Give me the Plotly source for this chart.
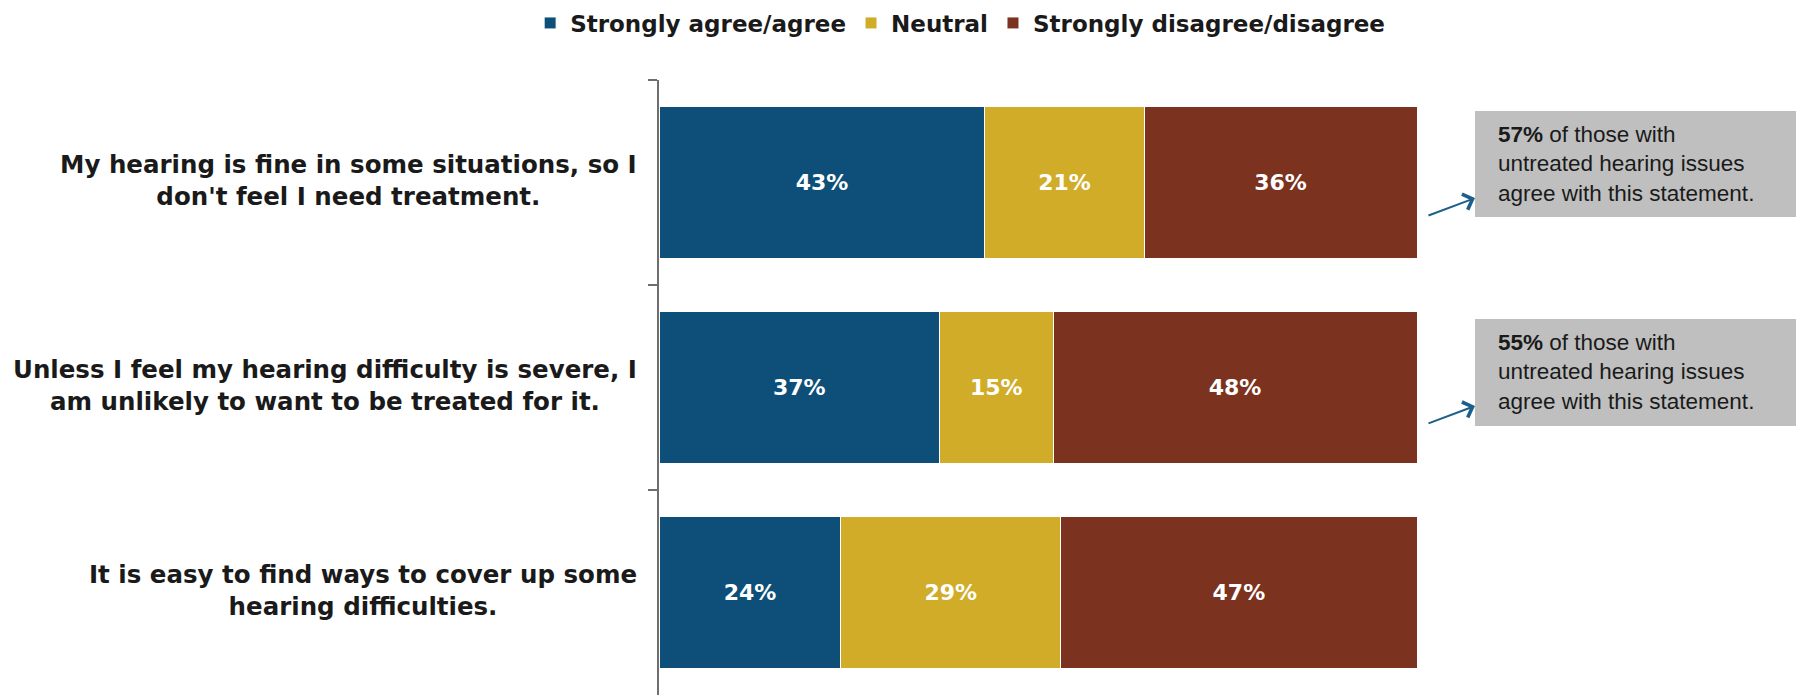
import plotly.graph_objects as go

categories = [
    "My hearing is fine in some situations, so I<br>don't feel I need treatment.",
    "Unless I feel my hearing difficulty is severe, I<br>am unlikely to want to be treated for it.",
    "It is easy to find ways to cover up some<br>hearing difficulties.",
]
agree = [43, 37, 24]
neutral = [21, 15, 29]
disagree = [36, 48, 47]
series_names = ["Strongly agree/agree", "Neutral", "Strongly disagree/disagree"]
series_colors = ["#0d4f78", "#d0ac28", "#7b321f"]

callout_rows = [0, 1]
callout_pct = [57, 55]
callout_text = "of those with<br>untreated hearing issues<br>agree with this statement."

BOLD = "DejaVu Sans"
REG = "Liberation Sans, Arial, sans-serif"

fig = go.Figure()
for name, vals, col in zip(series_names, [agree, neutral, disagree], series_colors):
    fig.add_trace(go.Bar(
        y=categories, x=vals, name=name, orientation="h",
        marker=dict(color=col, line=dict(color="white", width=1)),
        width=0.74,
        texttemplate="%{x}%", textposition="inside", insidetextanchor="middle",
        textfont=dict(family=BOLD, size=22, color="white", weight="bold"),
        hoverinfo="skip",
    ))

annotations = []
for cat in categories:
    annotations.append(dict(
        xref="paper", yref="y", x=0, y=cat, xanchor="right", yanchor="middle",
        xshift=-20, yshift=2, text=cat, align="center", showarrow=False,
        font=dict(family=BOLD, size=24.5, color="#1a1a1a", weight="bold"),
    ))

shapes = []
box_y = {0: (0.7772, 0.9496), 1: (0.4374, 0.6114)}
text_y = {0: 0.8634, 1: 0.5244}
head_y = {0: 0.808, 1: 0.470}
for r, p in zip(callout_rows, callout_pct):
    y0, y1 = box_y[r]
    shapes.append(dict(type="rect", xref="paper", yref="paper",
                       x0=1.0765, x1=1.6, y0=y0, y1=y1,
                       fillcolor="#bfbfbf", line=dict(width=0), layer="below"))
    annotations.append(dict(
        xref="paper", yref="paper", x=1.1042, y=text_y[r],
        xanchor="left", yanchor="middle", align="left", showarrow=False,
        text=f"<b>{p}%</b> {callout_text}",
        font=dict(family=REG, size=22.5, color="#1a1a1a"),
    ))
    annotations.append(dict(
        xref="paper", yref="paper", x=1.0765, y=head_y[r], text="",
        showarrow=True, ax=-48, ay=18, arrowhead=4, arrowsize=1.6,
        arrowwidth=2, arrowcolor="#1d5f8a",
    ))

fig.update_layout(
    width=1796, height=700,
    barmode="stack",
    paper_bgcolor="white", plot_bgcolor="white",
    margin=dict(l=659, r=379, t=80, b=5, pad=0, autoexpand=False),
    showlegend=True,
    legend=dict(orientation="h", xref="paper", yref="paper",
                x=-0.17, y=1.0927, xanchor="left", yanchor="middle",
                font=dict(family=BOLD, size=23, color="#1a1a1a", weight="bold"),
                traceorder="normal", itemclick=False, bgcolor="rgba(0,0,0,0)"),
    xaxis=dict(range=[0, 100], visible=False, fixedrange=True),
    yaxis=dict(type="category", categoryorder="array", categoryarray=categories,
               autorange="reversed", showticklabels=False,
               tickson="boundaries", ticks="outside", ticklen=9,
               tickcolor="#6e6e6e", tickwidth=1.5,
               showline=True, linecolor="#6e6e6e", linewidth=1.5,
               showgrid=False, zeroline=False, fixedrange=True),
    annotations=annotations,
    shapes=shapes,
)

fig.write_html("out.html", config={"displayModeBar": False},
               post_script="document.body.style.margin='0';document.body.style.overflow='hidden';")
